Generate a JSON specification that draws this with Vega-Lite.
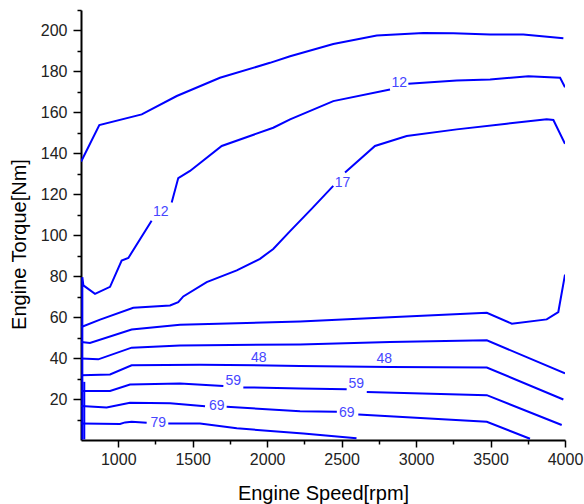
{
  "$schema": "https://vega.github.io/schema/vega-lite/v6.json",
  "width": 484,
  "height": 430,
  "autosize": "none",
  "padding": {"left": 81, "top": 10, "right": 19, "bottom": 64},
  "config": {"view": {"stroke": null}, "font": "Liberation Sans"},
  "datasets": {
    "lines": [
      {"s": "T", "i": 0, "x": 751, "y": 136}, {"s": "T", "i": 1, "x": 873, "y": 153.8}, {"s": "T", "i": 2, "x": 1158, "y": 159}, {"s": "T", "i": 3, "x": 1393, "y": 168}, {"s": "T", "i": 4, "x": 1683, "y": 176.9}, {"s": "T", "i": 5, "x": 2019, "y": 184.2}, {"s": "T", "i": 6, "x": 2154, "y": 187.4}, {"s": "T", "i": 7, "x": 2444, "y": 193.4}, {"s": "T", "i": 8, "x": 2736, "y": 197.5}, {"s": "T", "i": 9, "x": 3049, "y": 198.8}, {"s": "T", "i": 10, "x": 3250, "y": 198.6}, {"s": "T", "i": 11, "x": 3497, "y": 198}, {"s": "T", "i": 12, "x": 3720, "y": 198}, {"s": "T", "i": 13, "x": 3989, "y": 196.2},

      {"s": "12a", "i": 0, "x": 759, "y": 0.3}, {"s": "12a", "i": 1, "x": 759, "y": 79.5}, {"s": "12a", "i": 2, "x": 766, "y": 75.5}, {"s": "12a", "i": 3, "x": 844, "y": 71.4}, {"s": "12a", "i": 4, "x": 945, "y": 74.8}, {"s": "12a", "i": 5, "x": 1023, "y": 87.6}, {"s": "12a", "i": 6, "x": 1068, "y": 88.9}, {"s": "12a", "i": 7, "x": 1224, "y": 107.1},
      {"s": "12b", "i": 0, "x": 1359, "y": 116}, {"s": "12b", "i": 1, "x": 1403, "y": 127.9}, {"s": "12b", "i": 2, "x": 1482, "y": 131.4}, {"s": "12b", "i": 3, "x": 1695, "y": 143.6}, {"s": "12b", "i": 4, "x": 2041, "y": 152.5}, {"s": "12b", "i": 5, "x": 2154, "y": 156.6}, {"s": "12b", "i": 6, "x": 2444, "y": 165.5}, {"s": "12b", "i": 7, "x": 2825, "y": 171.2},
      {"s": "12c", "i": 0, "x": 2948, "y": 174}, {"s": "12c", "i": 1, "x": 3273, "y": 175.6}, {"s": "12c", "i": 2, "x": 3497, "y": 176}, {"s": "12c", "i": 3, "x": 3754, "y": 177.7}, {"s": "12c", "i": 4, "x": 3967, "y": 176.9}, {"s": "12c", "i": 5, "x": 4000, "y": 172.3},

      {"s": "17a", "i": 0, "x": 752, "y": 55.2}, {"s": "17a", "i": 1, "x": 878, "y": 58.8}, {"s": "17a", "i": 2, "x": 1101, "y": 64.6}, {"s": "17a", "i": 3, "x": 1348, "y": 65.7}, {"s": "17a", "i": 4, "x": 1403, "y": 67.3}, {"s": "17a", "i": 5, "x": 1437, "y": 70.1}, {"s": "17a", "i": 6, "x": 1594, "y": 77.1}, {"s": "17a", "i": 7, "x": 1796, "y": 82.8}, {"s": "17a", "i": 8, "x": 1952, "y": 88.5}, {"s": "17a", "i": 9, "x": 2041, "y": 93.3}, {"s": "17a", "i": 10, "x": 2154, "y": 102}, {"s": "17a", "i": 11, "x": 2300, "y": 113}, {"s": "17a", "i": 12, "x": 2444, "y": 124.1},
      {"s": "17b", "i": 0, "x": 2523, "y": 130.6}, {"s": "17b", "i": 1, "x": 2724, "y": 143.6}, {"s": "17b", "i": 2, "x": 2937, "y": 148.5}, {"s": "17b", "i": 3, "x": 3273, "y": 151.7}, {"s": "17b", "i": 4, "x": 3609, "y": 154.5}, {"s": "17b", "i": 5, "x": 3877, "y": 156.6}, {"s": "17b", "i": 6, "x": 3922, "y": 156.3}, {"s": "17b", "i": 7, "x": 4000, "y": 144.7},

      {"s": "A", "i": 0, "x": 752, "y": 47.9}, {"s": "A", "i": 1, "x": 810, "y": 47.4}, {"s": "A", "i": 2, "x": 1090, "y": 54}, {"s": "A", "i": 3, "x": 1415, "y": 56.3}, {"s": "A", "i": 4, "x": 2221, "y": 57.9}, {"s": "A", "i": 5, "x": 2825, "y": 60}, {"s": "A", "i": 6, "x": 3475, "y": 62.1}, {"s": "A", "i": 7, "x": 3643, "y": 56.8}, {"s": "A", "i": 8, "x": 3877, "y": 58.9}, {"s": "A", "i": 9, "x": 3955, "y": 62.5}, {"s": "A", "i": 10, "x": 4000, "y": 80.8},

      {"s": "B", "i": 0, "x": 752, "y": 39.8}, {"s": "B", "i": 1, "x": 866, "y": 39.4}, {"s": "B", "i": 2, "x": 1090, "y": 45.1}, {"s": "B", "i": 3, "x": 1415, "y": 46.2}, {"s": "B", "i": 4, "x": 2221, "y": 46.7}, {"s": "B", "i": 5, "x": 2825, "y": 47.9}, {"s": "B", "i": 6, "x": 3475, "y": 48.7}, {"s": "B", "i": 7, "x": 4000, "y": 32.5},

      {"s": "C", "i": 0, "x": 752, "y": 31.6}, {"s": "C", "i": 1, "x": 945, "y": 32}, {"s": "C", "i": 2, "x": 1090, "y": 36.5}, {"s": "C", "i": 3, "x": 1549, "y": 36.8}, {"s": "C", "i": 4, "x": 2221, "y": 36.2}, {"s": "C", "i": 5, "x": 2825, "y": 35.7}, {"s": "C", "i": 6, "x": 3475, "y": 35.4}, {"s": "C", "i": 7, "x": 3989, "y": 19.8},

      {"s": "D1", "i": 0, "x": 752, "y": 23.9}, {"s": "D1", "i": 1, "x": 945, "y": 23.9}, {"s": "D1", "i": 2, "x": 1079, "y": 27.1}, {"s": "D1", "i": 3, "x": 1415, "y": 27.6}, {"s": "D1", "i": 4, "x": 1706, "y": 26.4},
      {"s": "D2", "i": 0, "x": 1840, "y": 25.7}, {"s": "D2", "i": 1, "x": 2221, "y": 25.2}, {"s": "D2", "i": 2, "x": 2534, "y": 24.8},
      {"s": "D3", "i": 0, "x": 2669, "y": 23.5}, {"s": "D3", "i": 1, "x": 3475, "y": 21.9}, {"s": "D3", "i": 2, "x": 3978, "y": 7.3},

      {"s": "E1", "i": 0, "x": 752, "y": 16.6}, {"s": "E1", "i": 1, "x": 922, "y": 15.9}, {"s": "E1", "i": 2, "x": 1079, "y": 18.2}, {"s": "E1", "i": 3, "x": 1348, "y": 17.9}, {"s": "E1", "i": 4, "x": 1583, "y": 16.5},
      {"s": "E2", "i": 0, "x": 1728, "y": 16.2}, {"s": "E2", "i": 1, "x": 2221, "y": 14.1}, {"s": "E2", "i": 2, "x": 2468, "y": 13.8},
      {"s": "E3", "i": 0, "x": 2612, "y": 12.5}, {"s": "E3", "i": 1, "x": 3475, "y": 8.9}, {"s": "E3", "i": 2, "x": 3765, "y": 0.6},

      {"s": "F1", "i": 0, "x": 752, "y": 8.1}, {"s": "F1", "i": 1, "x": 1012, "y": 7.8}, {"s": "F1", "i": 2, "x": 1046, "y": 8.6}, {"s": "F1", "i": 3, "x": 1090, "y": 8.9}, {"s": "F1", "i": 4, "x": 1191, "y": 8.4},
      {"s": "F2", "i": 0, "x": 1336, "y": 8.1}, {"s": "F2", "i": 1, "x": 1549, "y": 8.1}, {"s": "F2", "i": 2, "x": 1796, "y": 5.7}, {"s": "F2", "i": 3, "x": 2243, "y": 3.2}, {"s": "F2", "i": 4, "x": 2600, "y": 0.8},

      {"s": "V", "i": 0, "x": 772, "y": 28.4}, {"s": "V", "i": 1, "x": 772, "y": 0.3}
    ],
    "labels": [
      {"x": 1286, "y": 111.5, "t": "12"},
      {"x": 2887, "y": 174.4, "t": "12"},
      {"x": 2506, "y": 125.4, "t": "17"},
      {"x": 1944, "y": 40.2, "t": "48"},
      {"x": 2786, "y": 39.6, "t": "48"},
      {"x": 1773, "y": 29, "t": "59"},
      {"x": 2599, "y": 27.4, "t": "59"},
      {"x": 1661, "y": 16.6, "t": "69"},
      {"x": 2534, "y": 13, "t": "69"},
      {"x": 1269, "y": 8.1, "t": "79"}
    ]
  },
  "resolve": {"axis": {"y": "independent"}},
  "layer": [
    {
      "data": {"name": "lines"},
      "mark": {"type": "line", "color": "#0000ff", "strokeWidth": 2, "clip": true},
      "encoding": {
        "x": {
          "field": "x", "type": "quantitative",
          "scale": {"domain": [750, 4000], "nice": false, "zero": false},
          "axis": {
            "title": "Engine Speed[rpm]",
            "values": [1000, 1250, 1500, 1750, 2000, 2250, 2500, 2750, 3000, 3250, 3500, 3750, 4000],
            "labelExpr": "datum.value % 500 === 0 ? datum.label : ''",
            "format": "d",
            "grid": false,
            "domainColor": "#000000", "domainWidth": 2,
            "tickColor": "#000000", "tickWidth": 1.5,
            "tickSize": {"condition": {"test": "datum.value % 500 === 0", "value": 7}, "value": 4},
            "labelFontSize": 16, "labelColor": "#222222", "labelPadding": 4,
            "labelFont": "Liberation Sans", "labelFlush": false, "labelOverlap": false,
            "titleFont": "Liberation Sans", "titleFontSize": 20, "titleFontWeight": "normal", "titleColor": "#000000",
            "titleY": 59, "titleBaseline": "alphabetic"
          }
        },
        "y": {
          "field": "y", "type": "quantitative",
          "scale": {"domain": [0, 210], "nice": false, "zero": false},
          "axis": {
            "orient": "left",
            "title": "Engine Torque[Nm]",
            "values": [20, 40, 60, 80, 100, 120, 140, 160, 180, 200],
            "format": "d",
            "grid": false,
            "domainColor": "#000000", "domainWidth": 2,
            "tickColor": "#000000", "tickWidth": 1.5, "tickSize": 8,
            "labelFontSize": 16, "labelColor": "#222222", "labelPadding": 6,
            "labelFont": "Liberation Sans", "labelFlush": false, "labelOverlap": false,
            "titleFont": "Liberation Sans", "titleFontSize": 20, "titleFontWeight": "normal", "titleColor": "#000000",
            "titleX": -56, "titleY": 234, "titleAngle": -90, "titleBaseline": "alphabetic", "titleAlign": "center"
          }
        },
        "detail": {"field": "s", "type": "nominal"},
        "order": {"field": "i", "type": "quantitative"}
      }
    },
    {
      "data": {"name": "labels"},
      "mark": {"type": "text", "font": "Liberation Sans", "fontSize": 14, "color": "#4646ff", "baseline": "middle", "align": "center"},
      "encoding": {
        "x": {"field": "x", "type": "quantitative"},
        "y": {
          "field": "y", "type": "quantitative",
          "axis": {
            "orient": "left", "title": null, "labels": false, "domain": false, "grid": false,
            "values": [10, 30, 50, 70, 90, 110, 130, 150, 170, 190, 210],
            "tickColor": "#000000", "tickWidth": 1.5, "tickSize": 4, "offset": 0
          }
        },
        "text": {"field": "t", "type": "nominal"}
      }
    }
  ]
}
